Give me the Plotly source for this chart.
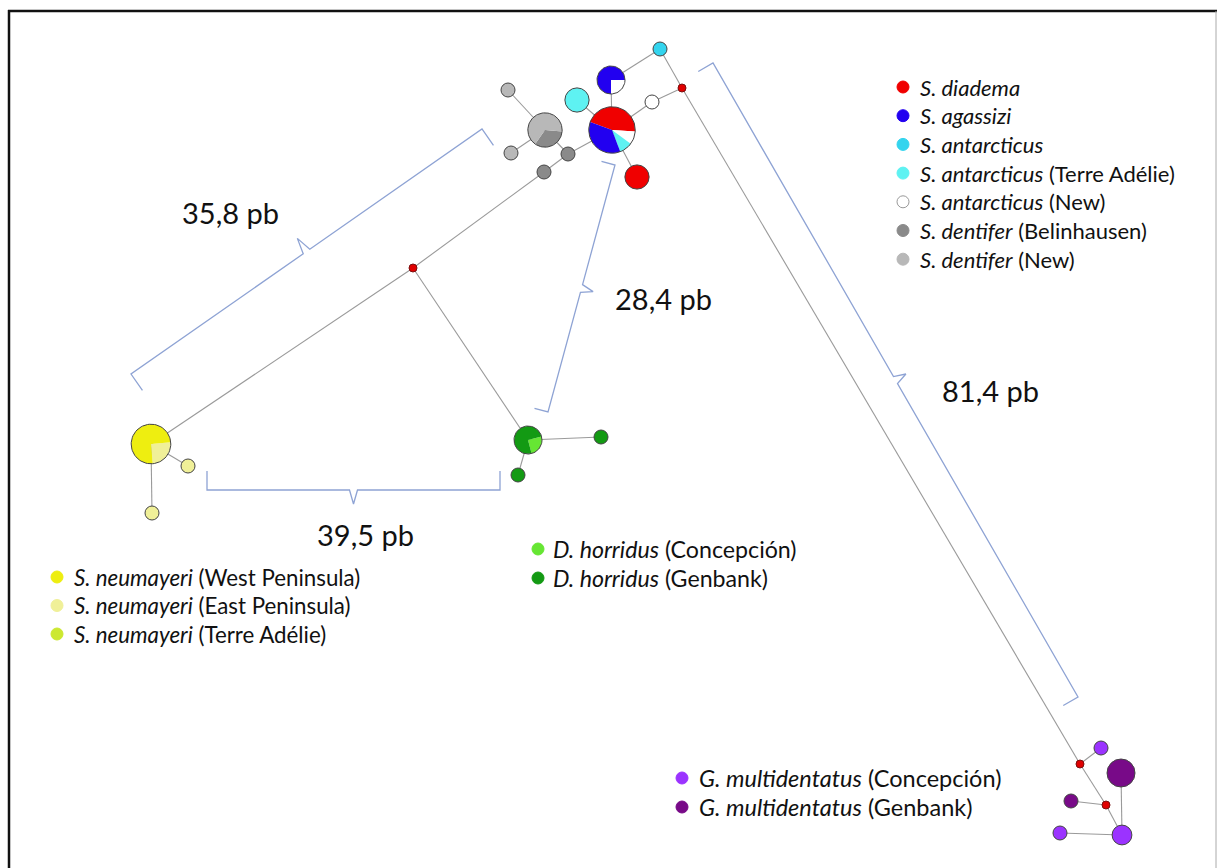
import math
import plotly.graph_objects as go

W, H = 1219, 868

# ---------------- data ----------------
# haplotype groups (legend entries) and their colours
group_names = ["diadema", "agassizi", "antarcticus", "antarcticus_TA", "antarcticus_new",
               "dentifer_bel", "dentifer_new", "neum_west", "neum_east", "neum_ta",
               "horr_conc", "horr_gen", "mult_conc", "mult_gen", "median"]
group_colors = ["#f00000", "#2200f0", "#33d4ee", "#5ef2f2", "#ffffff",
                "#8a8a8a", "#b8b8b8", "#eeee10", "#f0f098", "#cce830",
                "#66e633", "#139a13", "#9b33ff", "#780a88", "#e00000"]

# haplotype nodes: id, frequency and composition (group -> count)
node_ids = ["P1", "P2", "C1", "C2", "W1", "R2", "G1", "G2", "G3", "G4", "G5",
            "Y1", "Y2", "Y3", "D1", "D2", "D3", "M1", "M2", "M3", "M4", "M5",
            "V1", "V2", "V3", "V4"]
node_freq = [11, 4, 3, 1, 1, 3, 6, 1, 1, 1, 1,
             8, 1, 1, 4, 1, 1, 4, 1, 1, 2, 1,
             0, 0, 0, 0]
node_comp = [
    {"diadema": 5, "antarcticus_new": 1, "antarcticus_TA": 1, "agassizi": 4},
    {"antarcticus_new": 1, "agassizi": 3},
    {"antarcticus_TA": 3},
    {"antarcticus": 1},
    {"antarcticus_new": 1},
    {"diadema": 3},
    {"dentifer_bel": 2, "dentifer_new": 4},
    {"dentifer_new": 1},
    {"dentifer_new": 1},
    {"dentifer_bel": 1},
    {"dentifer_bel": 1},
    {"neum_east": 2, "neum_west": 6},
    {"neum_east": 1},
    {"neum_east": 1},
    {"horr_conc": 1, "horr_gen": 3},
    {"horr_gen": 1},
    {"horr_gen": 1},
    {"mult_gen": 4},
    {"mult_conc": 1},
    {"mult_gen": 1},
    {"mult_conc": 2},
    {"mult_conc": 1},
    {"median": 0}, {"median": 0}, {"median": 0}, {"median": 0},
]

# links of the network
edges = [("P1", "P2"), ("P1", "C1"), ("P1", "W1"), ("W1", "V1"), ("P1", "R2"),
         ("P2", "C2"), ("C2", "V1"), ("V1", "V3"), ("V3", "M2"), ("V3", "V4"),
         ("V4", "M3"), ("V4", "M4"), ("M4", "M1"), ("M4", "M5"),
         ("P1", "G4"), ("G4", "G1"), ("G4", "G5"), ("G5", "V2"), ("G1", "G2"),
         ("G1", "G3"), ("V2", "Y1"), ("Y1", "Y2"), ("Y1", "Y3"),
         ("V2", "D1"), ("D1", "D2"), ("D1", "D3")]

# divergence labels
dist_labels = ["35,8 pb", "28,4 pb", "39,5 pb", "81,4 pb"]

# legends
legend_top = [("diadema", "<i>S. diadema</i>"), ("agassizi", "<i>S. agassizi</i>"),
              ("antarcticus", "<i>S. antarcticus</i>"),
              ("antarcticus_TA", "<i>S. antarcticus</i> (Terre Adélie)"),
              ("antarcticus_new", "<i>S. antarcticus</i> (New)"),
              ("dentifer_bel", "<i>S. dentifer</i> (Belinhausen)"),
              ("dentifer_new", "<i>S. dentifer</i> (New)")]
legend_neum = [("neum_west", "<i>S. neumayeri</i> (West Peninsula)"),
               ("neum_east", "<i>S. neumayeri</i> (East Peninsula)"),
               ("neum_ta", "<i>S. neumayeri</i> (Terre Adélie)")]
legend_horr = [("horr_conc", "<i>D. horridus</i> (Concepción)"),
               ("horr_gen", "<i>D. horridus</i> (Genbank)")]
legend_mult = [("mult_conc", "<i>G. multidentatus</i> (Concepción)"),
               ("mult_gen", "<i>G. multidentatus</i> (Genbank)")]

# ---------------- layout (drawing positions, px) ----------------
node_pos = {
    "P1": (612, 130), "P2": (611, 80), "C1": (577, 100), "C2": (660, 49),
    "W1": (652, 102), "R2": (637, 177), "G1": (545, 130), "G2": (508, 90),
    "G3": (511, 153), "G4": (568, 154), "G5": (544, 172),
    "Y1": (151, 444), "Y2": (188, 466), "Y3": (152, 513),
    "D1": (528, 440), "D2": (601, 437), "D3": (518, 475),
    "M1": (1121, 773), "M2": (1101, 748), "M3": (1071, 801), "M4": (1122, 835),
    "M5": (1060, 833),
    "V1": (682, 88), "V2": (413, 268), "V3": (1080, 764), "V4": (1106, 805),
}
pie_start = {"P1": 160, "P2": 0, "G1": -5, "Y1": 5, "D1": 15}
# brackets: start corner, end corner, hook length, tip length, hook side sign
brackets = [((131, 374), (482, 129), 20, 16, 1),
            ((615, 165), (548, 412), 14, 12, 1),
            ((207, 490), (500, 490), 19, 14, -1),
            ((713, 63), (1078, 697), 17, 12, 1)]
label_pos = [(230, 212), (663, 298), (365, 534), (990, 390)]

color_of = dict(zip(group_names, group_colors))
BASE_R = 7.0

fig = go.Figure()


def add_line(xs, ys, color, width):
    fig.add_trace(go.Scatter(x=xs, y=ys, mode="lines", line=dict(color=color, width=width),
                             hoverinfo="skip", showlegend=False))


# edges
for a, b in edges:
    (x0, y0), (x1, y1) = node_pos[a], node_pos[b]
    add_line([x0, x1], [y0, y1], "#9a9a9a", 1.1)

# brackets
for (A, B, hook, tip, side) in brackets:
    dx, dy = B[0] - A[0], B[1] - A[1]
    L = math.hypot(dx, dy)
    ux, uy = dx / L, dy / L
    nx, ny = -uy * side, ux * side
    # hooks point toward +n, tip toward -n
    M = ((A[0] + B[0]) / 2, (A[1] + B[1]) / 2)
    e = 4
    pts = [(A[0] + hook * nx, A[1] + hook * ny), A,
           (M[0] - e * ux, M[1] - e * uy), (M[0] - tip * nx, M[1] - tip * ny),
           (M[0] + e * ux, M[1] + e * uy), B,
           (B[0] + hook * nx, B[1] + hook * ny)]
    add_line([p[0] for p in pts], [p[1] for p in pts], "#8ea3d4", 1.3)

# nodes
for nid, freq, comp in zip(node_ids, node_freq, node_comp):
    cx, cy = node_pos[nid]
    if freq == 0:
        fig.add_trace(go.Scatter(x=[cx], y=[cy], mode="markers",
                                 marker=dict(size=8, color=color_of["median"],
                                             line=dict(color="#7a1010", width=1)),
                                 hoverinfo="skip", showlegend=False))
        continue
    r = BASE_R * math.sqrt(freq)
    if len(comp) == 1:
        g = list(comp)[0]
        fig.add_trace(go.Scatter(x=[cx], y=[cy], mode="markers",
                                 marker=dict(size=2 * r, color=color_of[g],
                                             line=dict(color="#444444", width=1)),
                                 hoverinfo="skip", showlegend=False))
        continue
    total = sum(comp.values())
    ang = pie_start[nid]
    for g, c in comp.items():
        span = 360.0 * c / total
        a0, a1 = ang, ang - span
        n = max(8, int(span / 4))
        xs, ys = [cx], [cy]
        for i in range(n + 1):
            t = math.radians(a0 + (a1 - a0) * i / n)
            xs.append(cx + r * math.cos(t))
            ys.append(cy - r * math.sin(t))
        xs.append(cx)
        ys.append(cy)
        fig.add_trace(go.Scatter(x=xs, y=ys, mode="lines", fill="toself",
                                 fillcolor=color_of[g], line=dict(width=0, color=color_of[g]),
                                 hoverinfo="skip", showlegend=False))
        ang = a1
    xs = [cx + r * math.cos(math.radians(k * 5)) for k in range(73)]
    ys = [cy - r * math.sin(math.radians(k * 5)) for k in range(73)]
    add_line(xs, ys, "#444444", 1)

# distance labels
annotations = []
for txt, (x, y) in zip(dist_labels, label_pos):
    annotations.append(dict(x=x, y=y, xref="x", yref="y", text=txt, showarrow=False,
                            xanchor="center", yanchor="middle",
                            font=dict(family="Lato", size=29, color="#111111")))

# legends
def add_legend(items, x_dot, x_txt, y0, step, fsize):
    for i, (g, label) in enumerate(items):
        y = y0 + i * step
        fig.add_trace(go.Scatter(x=[x_dot], y=[y], mode="markers",
                                 marker=dict(size=12, color=color_of[g],
                                             line=dict(color="#999999" if g == "antarcticus_new" else color_of[g],
                                                       width=1)),
                                 hoverinfo="skip", showlegend=False))
        annotations.append(dict(x=x_txt, y=y, xref="x", yref="y", text=label, showarrow=False,
                                xanchor="left", yanchor="middle",
                                font=dict(family="Lato", size=fsize, color="#111111")))


add_legend(legend_top, 903, 918, 87, 28.7, 22)
add_legend(legend_neum, 57, 72, 577, 28.5, 22.3)
add_legend(legend_horr, 538, 551, 549, 29, 23.2)
add_legend(legend_mult, 682, 697, 778, 29, 23.5)

shapes = [
    dict(type="line", xref="x", yref="y", x0=8, y0=11, x1=1217, y1=11,
         line=dict(color="#111111", width=2.5)),
    dict(type="line", xref="x", yref="y", x0=9, y0=10, x1=9, y1=880,
         line=dict(color="#111111", width=2.5)),
    dict(type="line", xref="x", yref="y", x0=1216, y0=11, x1=1216, y1=880,
         line=dict(color="#aaaaaa", width=1)),
]

fig.update_layout(
    width=W, height=H, autosize=False,
    margin=dict(l=0, r=0, t=0, b=0, pad=0),
    paper_bgcolor="white", plot_bgcolor="white",
    xaxis=dict(range=[0, W], visible=False, fixedrange=True),
    yaxis=dict(range=[H, 0], visible=False, fixedrange=True),
    annotations=annotations, shapes=shapes, showlegend=False,
)

fig.write_html("out.html", config={"displayModeBar": False})
